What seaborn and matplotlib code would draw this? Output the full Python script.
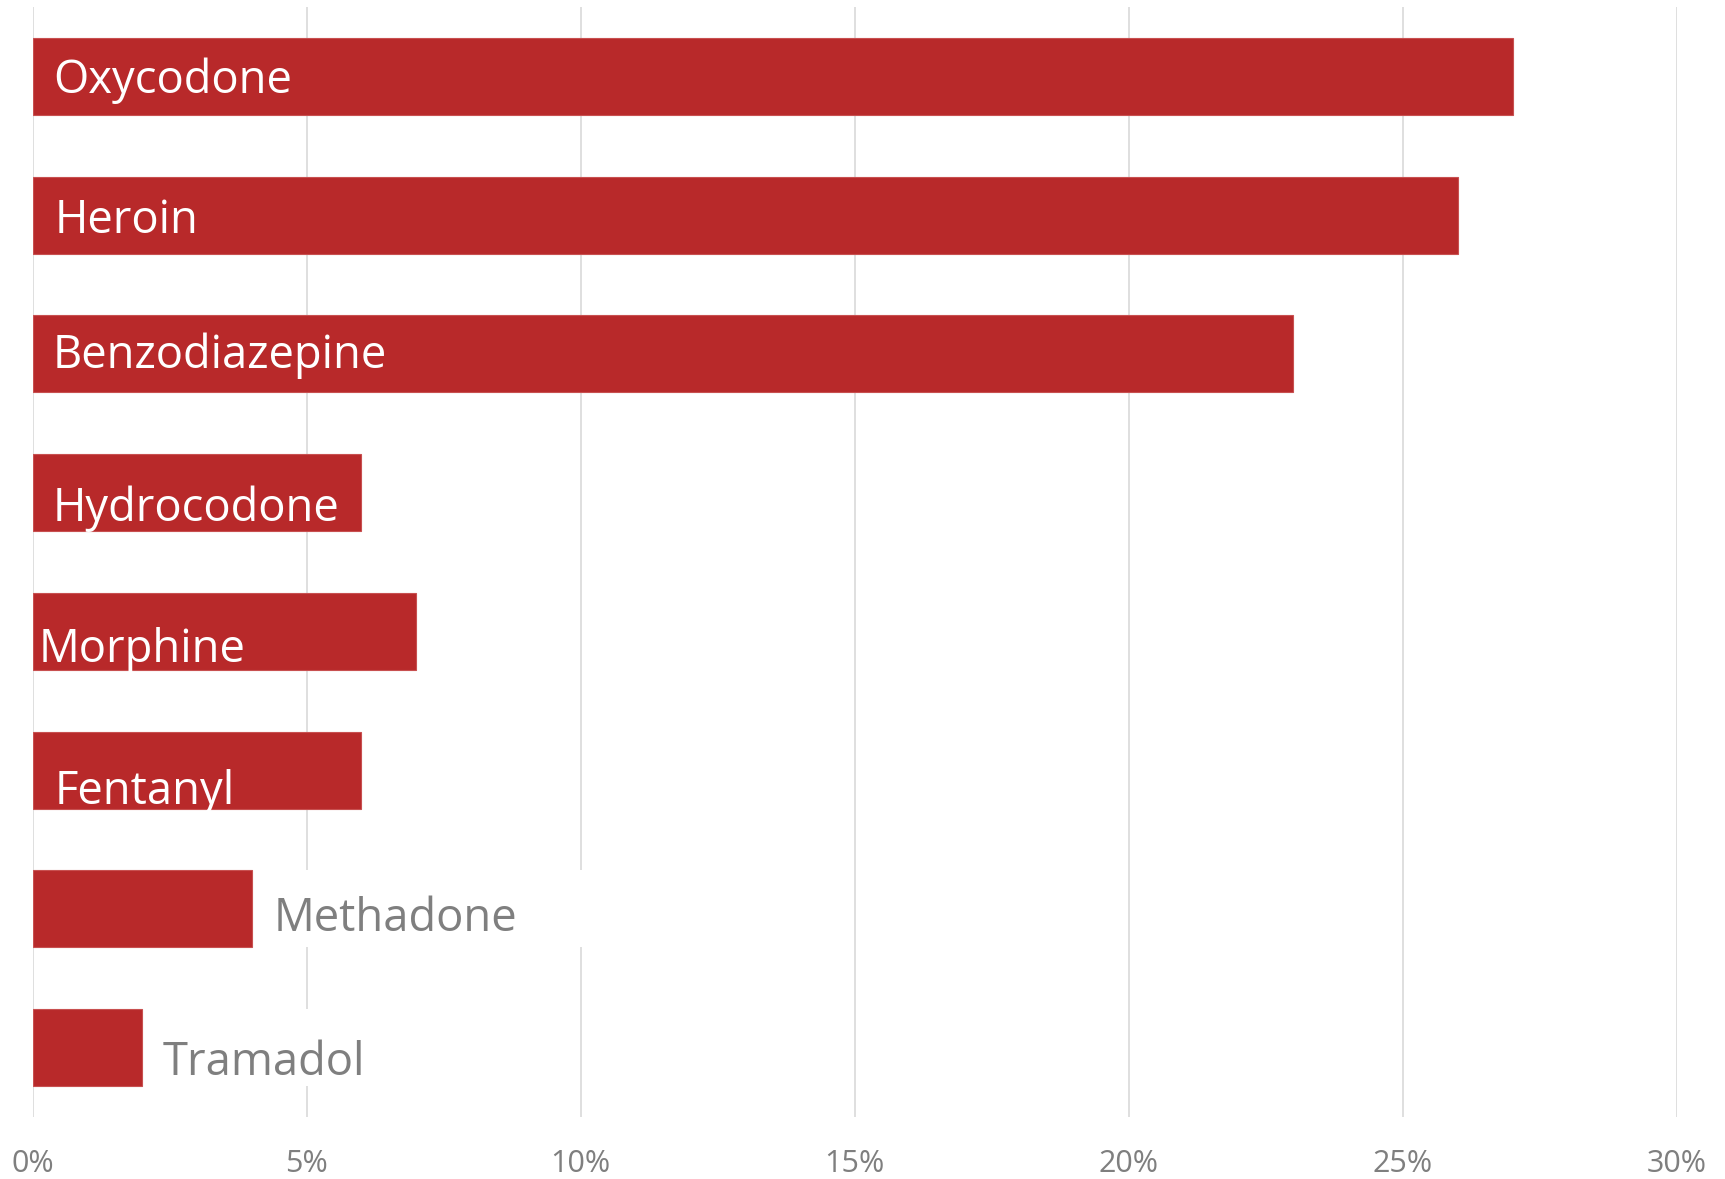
import matplotlib
matplotlib.use('Agg')
import matplotlib.pyplot as plt
import seaborn as sns
import pandas as pd

# ---- data ----
drugs = ['Oxycodone', 'Heroin', 'Benzodiazepine', 'Hydrocodone',
         'Morphine', 'Fentanyl', 'Methadone', 'Tramadol']
shares = [27, 26, 23, 6, 7, 6, 4, 2]
tick_values = [0, 5, 10, 15, 20, 25, 30]
tick_labels = ['0%', '5%', '10%', '15%', '20%', '25%', '30%']
label_inside = [True, True, True, True, True, True, False, False]

# ---- style ----
BAR = '#B8292A'
GRID = '#D9D9D9'
GREY = '#7F7F7F'
label_dx = [21, 22, 20, 20, 6, 22, 22, 20]     # px from anchor
label_dy = [17, 18, 14, 28, 31, 34, 22, 27]    # px baseline below bar centre
box_width = 6.2                                # white backing behind outside labels

sns.set_theme(style='white')
plt.rcParams['font.family'] = ['Open Sans', 'DejaVu Sans']

W, H = 1725, 1179
fig = plt.figure(figsize=(W / 100, H / 100), dpi=100)
ax = fig.add_axes([32.5 / W, 62 / H, (1677 - 32.5) / W, (1117 - 7) / H])

df = pd.DataFrame({'drug': drugs, 'share': shares})
sns.barplot(data=df, x='share', y='drug', order=drugs, color=BAR, saturation=1,
            width=0.555, edgecolor='#C85050', linewidth=0.8, ax=ax, zorder=2)

ax.set_xlim(0, 30)
ax.set_ylim(7.5, -0.5)
ax.set_xticks(tick_values)
ax.set_xticklabels(tick_labels)
ax.set_yticks([])
ax.set_xlabel('')
ax.set_ylabel('')
ax.xaxis.grid(True, color=GRID, linewidth=1.2)
ax.yaxis.grid(False)
ax.set_axisbelow(True)
for s in ax.spines.values():
    s.set_visible(False)
ax.tick_params(axis='x', length=0, pad=23, labelsize=22, labelcolor=GREY)

for i, (name, val, inside) in enumerate(zip(drugs, shares, label_inside)):
    if inside:
        ax.annotate(name, xy=(0, i), xytext=(label_dx[i], -label_dy[i]),
                    textcoords='offset pixels', color='white', fontsize=32.7,
                    ha='left', va='baseline', zorder=5)
    else:
        ax.barh(i, box_width, left=val, height=0.555, color='white',
                linewidth=0, zorder=1)
        ax.annotate(name, xy=(val, i), xytext=(label_dx[i], -label_dy[i]),
                    textcoords='offset pixels', color=GREY, fontsize=32.7,
                    ha='left', va='baseline', zorder=5)

fig.savefig('out.png', dpi=100, facecolor='white')
